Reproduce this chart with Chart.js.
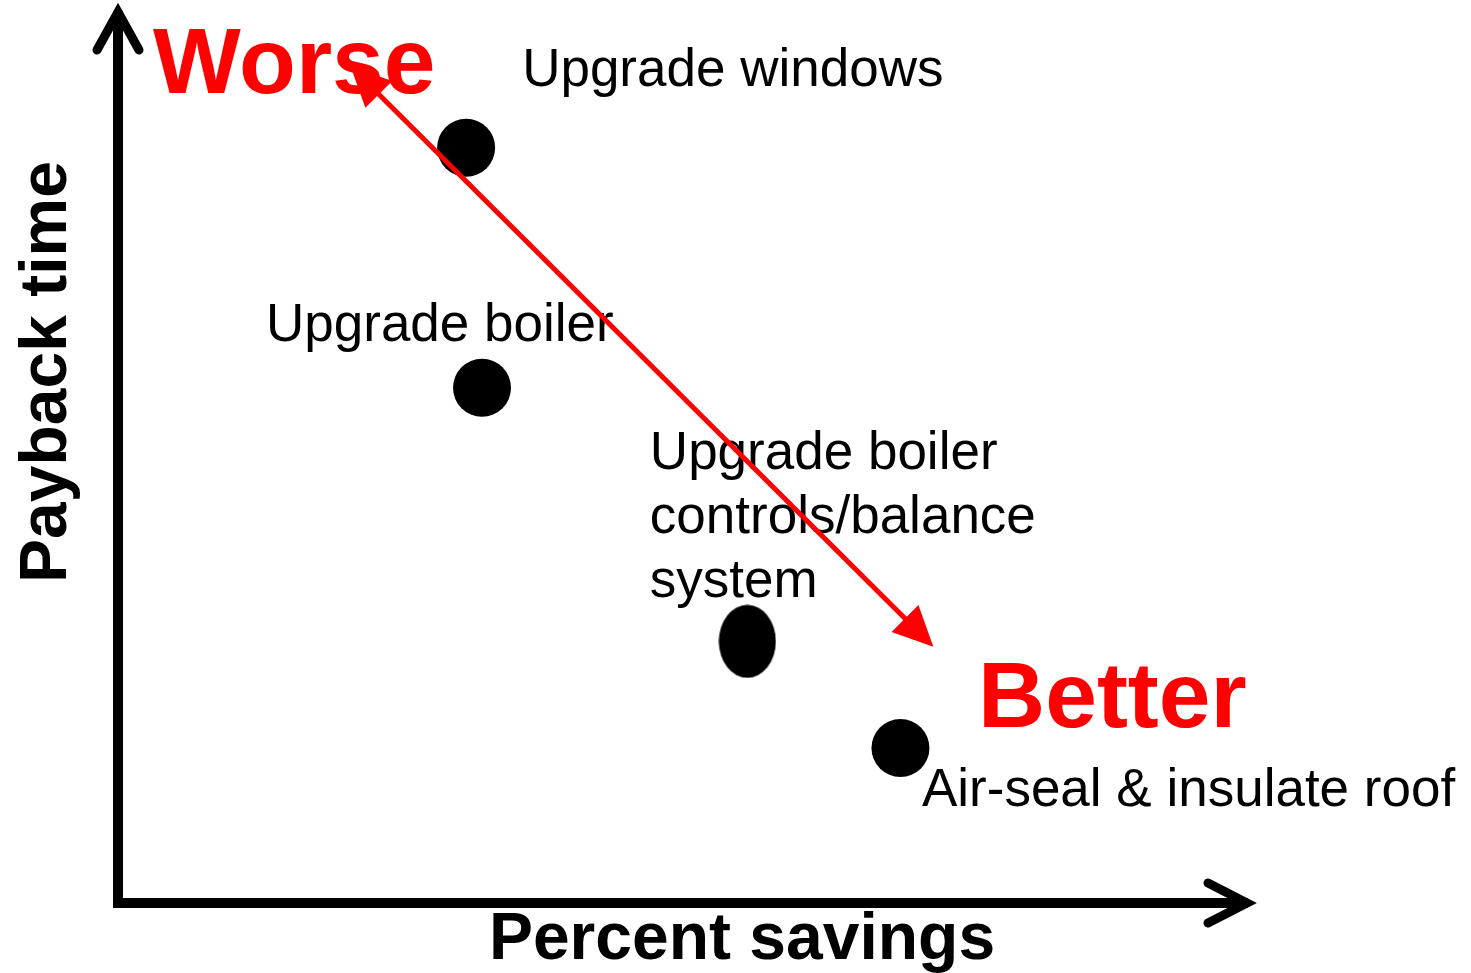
<!DOCTYPE html>
<html>
<head>
<meta charset="utf-8">
<script src="https://cdn.jsdelivr.net/npm/chart.js@4/dist/chart.umd.min.js"></script>
<style>
  html, body { margin: 0; padding: 0; background: #fff; }
  #wrap { width: 1471px; height: 973px; }
</style>
</head>
<body>
<div id="wrap"><canvas id="chart" width="1471" height="973"></canvas></div>
<script>
// les mesures (0-100 sur chaque axe, pas de graduations dans l'original)
const measures = ['Upgrade windows', 'Upgrade boiler', 'Upgrade boiler\ncontrols/balance\nsystem', 'Air-seal & insulate roof']
const savings = [30.7, 32.1, 55.5, 69.0]
const payback = [84.3, 57.5, 29.2, 17.3]

// fleche rouge worse -> better
const trendX = [20.5, 71.9]
const trendY = [93.4, 28.6]

const xTitle = 'Percent savings'
const yTitle = 'Payback time'

// decalage des etiquettes par rapport au point (en pixels)
const labelOffsets = [[56, -62], [-216, -47], [-97.5, -172.5], [21.5, 58]]

// point ovale pour le troisieme
let oval = document.createElement('canvas')
oval.width = 58
oval.height = 74
let octx = oval.getContext('2d')
octx.fillStyle = '#000'
octx.beginPath()
octx.ellipse(29, 37, 28.5, 36.5, 0, 0, Math.PI * 2)
octx.fill()

function arrowHead(ctx, x1, y1, x2, y2, len, half) {
    let a = Math.atan2(y2 - y1, x2 - x1)
    ctx.beginPath()
    ctx.moveTo(x2, y2)
    ctx.lineTo(x2 - len * Math.cos(a) + half * Math.sin(a), y2 - len * Math.sin(a) - half * Math.cos(a))
    ctx.lineTo(x2 - len * Math.cos(a) - half * Math.sin(a), y2 - len * Math.sin(a) + half * Math.cos(a))
    ctx.closePath()
    ctx.fill()
}

const decor = {
    id: 'decor',
    beforeDatasetsDraw(chart) {
        let ctx = chart.ctx
        let a = chart.chartArea
        ctx.save()
        ctx.strokeStyle = '#000'
        ctx.lineWidth = 10
        // axe y
        ctx.beginPath()
        ctx.moveTo(a.left, a.bottom)
        ctx.lineTo(a.left, a.top + 4)
        ctx.stroke()
        // axe x
        ctx.beginPath()
        ctx.moveTo(a.left - 5, a.bottom)
        ctx.lineTo(a.right - 4, a.bottom)
        ctx.stroke()
        // pointes ouvertes
        ctx.lineWidth = 9
        ctx.lineCap = 'round'
        ctx.lineJoin = 'miter'
        ctx.beginPath()
        ctx.moveTo(a.left - 21, a.top + 43)
        ctx.lineTo(a.left, a.top + 5)
        ctx.lineTo(a.left + 21, a.top + 43)
        ctx.stroke()
        ctx.beginPath()
        ctx.moveTo(a.right - 44, a.bottom - 20)
        ctx.lineTo(a.right - 5, a.bottom)
        ctx.lineTo(a.right - 44, a.bottom + 20)
        ctx.stroke()

        // titres des axes
        ctx.fillStyle = '#000'
        ctx.font = 'bold 66px "Liberation Sans", Arial, sans-serif'
        ctx.textAlign = 'center'
        ctx.textBaseline = 'alphabetic'
        ctx.fillText(xTitle, 742, 959)
        ctx.save()
        ctx.translate(66, 372)
        ctx.rotate(-Math.PI / 2)
        ctx.fillText(yTitle, 0, 0)
        ctx.restore()

        // etiquettes
        let meta = chart.getDatasetMeta(0)
        ctx.font = '53px "Liberation Sans", Arial, sans-serif'
        ctx.textAlign = 'left'
        meta.data.forEach(function (pt, i) {
            let lines = measures[i].split('\n')
            lines.forEach(function (line, j) {
                ctx.fillText(line, pt.x + labelOffsets[i][0], pt.y + labelOffsets[i][1] + j * 64)
            })
        })

        // worse / better
        ctx.fillStyle = '#ff0000'
        ctx.font = 'bold 93px "Liberation Sans", Arial, sans-serif'
        ctx.fillText('Worse', 153, 93)
        ctx.fillText('Better', 978, 727)
        ctx.restore()
    },
    afterDatasetsDraw(chart) {
        let ctx = chart.ctx
        let sx = chart.scales.x
        let sy = chart.scales.y
        let x1 = sx.getPixelForValue(trendX[0]), y1 = sy.getPixelForValue(trendY[0])
        let x2 = sx.getPixelForValue(trendX[1]), y2 = sy.getPixelForValue(trendY[1])
        ctx.save()
        ctx.strokeStyle = '#ff0000'
        ctx.fillStyle = '#ff0000'
        ctx.lineWidth = 5
        let a = Math.atan2(y2 - y1, x2 - x1)
        ctx.beginPath()
        ctx.moveTo(x1 + 30 * Math.cos(a), y1 + 30 * Math.sin(a))
        ctx.lineTo(x2 - 30 * Math.cos(a), y2 - 30 * Math.sin(a))
        ctx.stroke()
        arrowHead(ctx, x1, y1, x2, y2, 40, 19)
        arrowHead(ctx, x2, y2, x1, y1, 40, 19)
        ctx.restore()
    }
}

let points = savings.map(function (s, i) { return { x: s, y: payback[i] } })

new Chart(document.getElementById('chart'), {
    type: 'scatter',
    data: {
        datasets: [{
            data: points,
            backgroundColor: '#000',
            borderColor: '#000',
            borderWidth: 0,
            pointRadius: 29,
            pointHoverRadius: 29,
            pointStyle: ['circle', 'circle', oval, 'circle'],
            clip: false
        }]
    },
    options: {
        responsive: false,
        animation: false,
        events: [],
        layout: { autoPadding: false, padding: { left: 118, right: 219, top: 7, bottom: 70 } },
        plugins: { legend: { display: false }, tooltip: { enabled: false } },
        scales: {
            x: { type: 'linear', min: 0, max: 100, display: false },
            y: { type: 'linear', min: 0, max: 100, display: false }
        }
    },
    plugins: [decor]
})
</script>
</body>
</html>
